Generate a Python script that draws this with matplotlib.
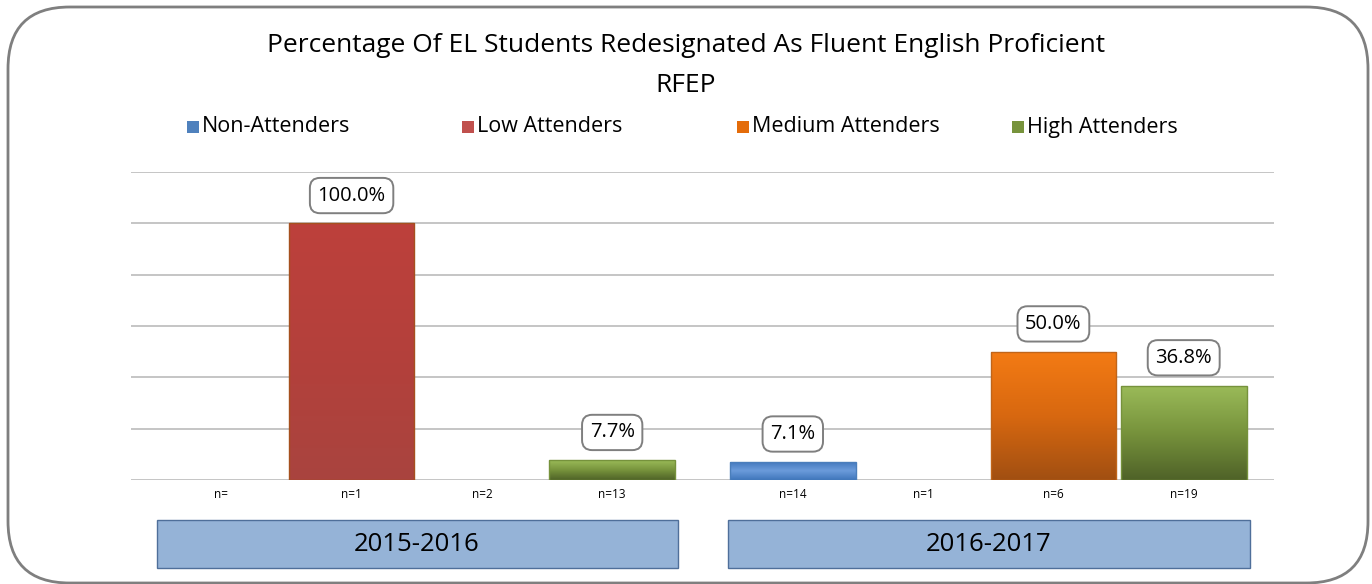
import numpy as np
import matplotlib.pyplot as plt
from matplotlib.patches import FancyBboxPatch, Rectangle
from matplotlib.colors import LinearSegmentedColormap

plt.rcParams['font.family'] = ['Open Sans', 'DejaVu Sans']

# data
years = ['2015-2016', '2016-2017']
series = ['Non-Attenders', 'Low Attenders', 'Medium Attenders', 'High Attenders']
values = {
    'Non-Attenders':    [np.nan, 7.1],
    'Low Attenders':    [100.0, np.nan],
    'Medium Attenders': [np.nan, 50.0],
    'High Attenders':   [7.7, 36.8],
}
n_labels = {
    'Non-Attenders':    ['n=', 'n=14'],
    'Low Attenders':    ['n=1', 'n=1'],
    'Medium Attenders': ['n=2', 'n=6'],
    'High Attenders':   ['n=13', 'n=19'],
}

# gradient colours (top, mid, bottom) and edge
grads = {
    'Non-Attenders':    (['#3f76bb', '#6b9bdb', '#3f76bb'], '#4a7ebb'),
    'Low Attenders':    (['#bd413c', '#b4403b', '#a9443f'], '#a5501e'),
    'Medium Attenders': (['#f47b14', '#d86810', '#a14f12'], '#c0651a'),
    'High Attenders':   (['#9bbb59', '#77933c', '#4f6228'], '#76923c'),
}
legend_col = {'Non-Attenders': '#4f81bd', 'Low Attenders': '#c0504d',
              'Medium Attenders': '#e46c0a', 'High Attenders': '#77933c'}

W, H = 1372, 584
fig = plt.figure(figsize=(W / 100, H / 100), dpi=100)
ax = fig.add_axes([131 / W, 104 / H, 1143 / W, 308 / H])

x = np.arange(len(years))
width = 0.22
step = 0.228
offsets = (np.arange(len(series)) - 1.5) * step

for i, s in enumerate(series):
    cols, edge = grads[s]
    cmap = LinearSegmentedColormap.from_list(s, cols[::-1])
    for j, v in enumerate(values[s]):
        xc = x[j] + offsets[i]
        ax.text(xc, -3, n_labels[s][j], ha='center', va='top', fontsize=8.5,
                clip_on=False)
        if np.isnan(v):
            continue
        bars = ax.bar(xc, v, width=width, color='none', edgecolor=edge,
                      linewidth=1, zorder=3)
        b = bars[0]
        grad = np.linspace(0, 1, 256).reshape(-1, 1)
        im = ax.imshow(grad, cmap=cmap, origin='lower', aspect='auto',
                       extent=[xc - width / 2, xc + width / 2, 0, v], zorder=2)
        im.set_clip_path(b)
        ax.annotate(f'{v:.1f}%', (xc, v), xytext=(0, 20), textcoords='offset points',
                    ha='center', va='center', fontsize=14.5, zorder=5,
                    bbox=dict(boxstyle='round,pad=0.38,rounding_size=0.5',
                              fc='white', ec='#7f7f7f', lw=1.4))

ax.set_xlim(-0.5, 1.5)
ax.set_ylim(0, 120)
ax.set_yticks(np.arange(0, 121, 20))
ax.yaxis.grid(True, color='#c0c0c0', lw=1.3)
ax.set_axisbelow(True)
ax.tick_params(left=False, bottom=False, labelleft=False, labelbottom=False)
for sp in ax.spines.values():
    sp.set_visible(False)

# year boxes
for j, yr in enumerate(years):
    xl = x[j] + offsets[0] - width / 2 - 0.003
    xr = x[j] + offsets[-1] + width / 2 + 0.006
    ax.add_patch(Rectangle((xl, -0.13), xr - xl, -0.156, transform=ax.get_xaxis_transform(),
                           fc='#95b3d7', ec='#4f6f9a', lw=1, clip_on=False))
    ax.text(x[j], -0.21, yr, transform=ax.get_xaxis_transform(), ha='center',
            va='center', fontsize=18.5)

# title
fig.text(0.5, 1 - 45 / H, 'Percentage Of EL Students Redesignated As Fluent English Proficient',
         ha='center', va='center', fontsize=19)
fig.text(0.5, 1 - 86 / H, 'RFEP', ha='center', va='center', fontsize=19)

# legend
for i, s in enumerate(series):
    lx = 187 + i * 275
    fig.add_artist(Rectangle((lx / W, 1 - 133 / H), 12 / W, 12 / H, fc=legend_col[s],
                             ec='none', transform=fig.transFigure))
    fig.text((lx + 15) / W, 1 - 127 / H, s, ha='left', va='center', fontsize=15.5)

# outer border
fig.add_artist(FancyBboxPatch((8 / W, 1 / H), 1360 / W, 576 / H,
                              boxstyle='round,pad=0,rounding_size=0.045',
                              transform=fig.transFigure, fc='none', ec='#7f7f7f',
                              lw=2, mutation_aspect=W / H))

fig.savefig('out.png', dpi=100)
